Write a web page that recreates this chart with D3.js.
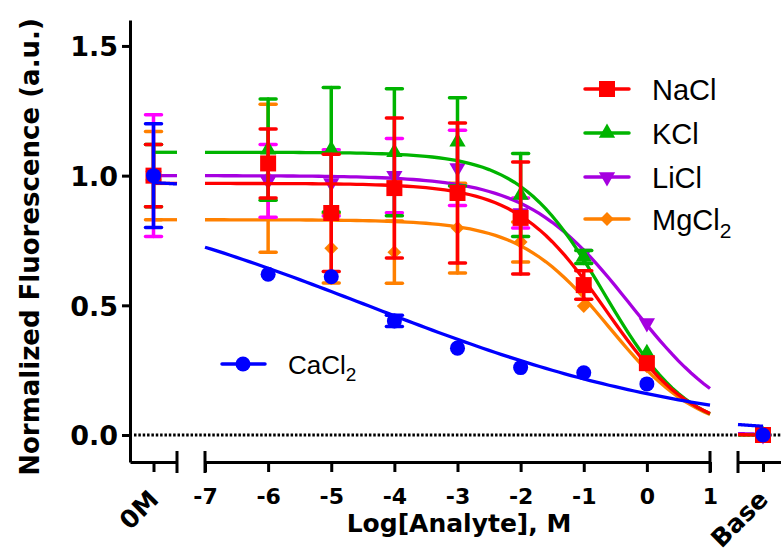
<!DOCTYPE html>
<html>
<head>
<meta charset="utf-8">
<script src="https://cdn.jsdelivr.net/npm/d3@7"></script>
<style>
  body { margin: 0; background: #fff; }
</style>
</head>
<body>
<script>
var width = 781;
var height = 555;

// Log[analyte] positions. 0M and Base sit on their own axis pieces.
var logConc = [-14, -6, -5, -4, -3, -2, -1, 0, 4.5];
var xTicks = [-7, -6, -5, -4, -3, -2, -1, 0, 1];
var yTicks = [0, 0.5, 1.0, 1.5];

// Means and SD (0M, -6 ... 0, Base). SD 0 = bar hidden.
var naclMean = [1.0, 1.047, 0.856, 0.952, 0.933, 0.837, 0.578, 0.277, 0.0];
var naclSd   = [0.12, 0.133, 0.226, 0.27, 0.27, 0.216, 0.055, 0, 0];
var kclMean  = [1.0, 1.10, 1.10, 1.09, 1.13, 0.925, 0.686, 0.316, 0.0];
var kclSd    = [0.12, 0.195, 0.24, 0.245, 0.17, 0.16, 0.025, 0, 0];
var liclMean = [1.0, 0.98, 0.972, 1.0, 1.03, 0.856, 0.70, 0.432, 0.0];
var liclSd   = [0.235, 0.14, 0.128, 0.143, 0.145, 0.058, 0, 0, 0];
var mgMean   = [1.0, 0.99, 0.72, 0.705, 0.798, 0.744, 0.497, 0.265, 0.0];
var mgSd     = [0.17, 0.285, 0.134, 0.12, 0.173, 0.077, 0, 0, 0];
var caMean   = [1.0, 0.62, 0.61, 0.44, 0.335, 0.26, 0.24, 0.197, 0.0];
var caSd     = [0.20, 0, 0, 0.022, 0, 0, 0, 0, 0];

// Fitted dose-response curves: top, bottom, logEC50, hill slope.
var naclFit = [0.97, 0, -0.66, 0.62];
var kclFit  = [1.09, 0, -0.675, 0.65];
var liclFit = [1.0, 0, -0.252, 0.528];
var mgFit   = [0.83, 0, -0.596, 0.612];
var caFit   = [1.0, 0, -4.43, 0.163];

// Drawing order: bottom first.
var series = [
  {name: 'MgCl', sub: '2', mean: mgMean, sd: mgSd, fit: mgFit, color: '#FF8000', bar: '#FF8000', shape: 'diamond'},
  {name: 'LiCl', sub: '', mean: liclMean, sd: liclSd, fit: liclFit, color: '#A600E0', bar: '#FF00FF', shape: 'down'},
  {name: 'KCl', sub: '', mean: kclMean, sd: kclSd, fit: kclFit, color: '#00B400', bar: '#00B400', shape: 'up'},
  {name: 'NaCl', sub: '', mean: naclMean, sd: naclSd, fit: naclFit, color: '#FF0000', bar: '#FF0000', shape: 'square'},
  {name: 'CaCl', sub: '2', mean: caMean, sd: caSd, fit: caFit, color: '#0000FF', bar: '#0000FF', shape: 'circle'}
];

var svg = d3.select('body')
  .append('svg')
  .attr('width', width)
  .attr('height', height);

// Scales: one y, three x pieces (0M | -7..1 | Base).
var y = d3.scaleLinear().domain([-0.104, 1.6]).range([462, 20]);
var xLeft = d3.scaleLinear().domain([-14.5, -13.5]).range([130, 177]);
var xMid = d3.scaleLinear().domain([-7, 1]).range([205, 710]);
var xRight = d3.scaleLinear().domain([4, 4.86]).range([738, 781]);
function xPos(v) {
  if (v < -10) return xLeft(v);
  if (v > 3) return xRight(v);
  return xMid(v);
}

function hill(p, x) {
  return p[1] + (p[0] - p[1]) / (1 + Math.pow(10, (x - p[2]) * p[3]));
}

var boldFont = 'DejaVu Sans, sans-serif';
var plainFont = 'Liberation Sans, Arial, sans-serif';

// Dotted zero line.
svg.append('line')
  .attr('x1', 134).attr('x2', 781)
  .attr('y1', y(0)).attr('y2', y(0))
  .attr('stroke', '#000')
  .attr('stroke-width', 3)
  .attr('stroke-dasharray', '2.5 1.85');

// Y axis.
var yAxis = svg.append('g')
  .attr('transform', 'translate(130,0)')
  .call(d3.axisLeft(y).tickValues(yTicks).tickFormat(d3.format('.1f')).tickSize(8).tickSizeOuter(0));

// X axis pieces.
var xAxisLeft = svg.append('g')
  .attr('transform', 'translate(0,462)')
  .call(d3.axisBottom(xLeft).tickValues([-14]).tickFormat(function() { return '0M'; }).tickSize(10).tickSizeOuter(0));
var xAxisMid = svg.append('g')
  .attr('transform', 'translate(0,462)')
  .call(d3.axisBottom(xMid).tickValues(xTicks).tickFormat(function(d) { return String(d); }).tickSize(10).tickSizeOuter(0));
var xAxisRight = svg.append('g')
  .attr('transform', 'translate(0,462)')
  .call(d3.axisBottom(xRight).tickValues([4.5]).tickFormat(function() { return 'Base'; }).tickSize(10).tickSizeOuter(0));

[yAxis, xAxisLeft, xAxisMid, xAxisRight].forEach(function(ax) {
  ax.select('.domain').attr('stroke-width', 3);
  ax.selectAll('.tick line').attr('stroke-width', 3);
});

// Left x piece meets the y axis at the corner.
xAxisLeft.select('.domain').attr('d', 'M130.5,0.5H177');

// Break caps.
[xLeft(-13.5), xMid(-7), xMid(1), xRight(4)].forEach(function(cx) {
  svg.append('line')
    .attr('x1', cx).attr('x2', cx)
    .attr('y1', 451).attr('y2', 473)
    .attr('stroke', '#000')
    .attr('stroke-width', 3);
});

yAxis.selectAll('.tick text')
  .attr('x', -12)
  .attr('dy', '0.36em')
  .attr('font-family', boldFont)
  .attr('font-weight', 'bold')
  .attr('font-size', 27)
  .attr('fill', '#000');

xAxisMid.selectAll('.tick text')
  .attr('y', 42)
  .attr('dy', 0)
  .attr('font-family', boldFont)
  .attr('font-weight', 'bold')
  .attr('font-size', 22)
  .attr('fill', '#000');

[xAxisLeft, xAxisRight].forEach(function(ax) {
  ax.selectAll('.tick text')
    .attr('x', 0).attr('y', 0).attr('dy', 0)
    .attr('text-anchor', 'end')
    .attr('transform', 'translate(6,39) rotate(-45)')
    .attr('font-family', boldFont)
    .attr('font-weight', 'bold')
    .attr('font-size', 25)
    .attr('fill', '#000');
});

// Axis titles.
svg.append('text')
  .attr('transform', 'translate(39,247) rotate(-90)')
  .attr('text-anchor', 'middle')
  .attr('font-family', boldFont)
  .attr('font-weight', 'bold')
  .attr('font-size', 26)
  .text('Normalized Fluorescence (a.u.)');

svg.append('text')
  .attr('x', 459)
  .attr('y', 532)
  .attr('text-anchor', 'middle')
  .attr('font-family', boldFont)
  .attr('font-weight', 'bold')
  .attr('font-size', 25)
  .text('Log[Analyte], M');

// Marker paths.
function markerPath(shape) {
  if (shape === 'square') return d3.symbol().type(d3.symbolSquare).size(256)();
  if (shape === 'circle') return d3.symbol().type(d3.symbolCircle).size(177)();
  if (shape === 'up') return d3.symbol().type(d3.symbolTriangle).size(115)();
  if (shape === 'down') return d3.symbol().type(d3.symbolTriangle).size(115)();
  return d3.symbol().type(d3.symbolSquare).size(96)();
}
function markerRot(shape) {
  if (shape === 'down') return ' rotate(180)';
  if (shape === 'diamond') return ' rotate(45)';
  return '';
}

var pieces = [[xLeft, -14, -13.5], [xMid, -7, 1], [xRight, 4, 4.5]];

series.forEach(function(s) {
  var g = svg.append('g');
  var pts = logConc.map(function(c, i) { return {x: c, m: s.mean[i], sd: s.sd[i]}; });

  // Error bars.
  var bars = g.selectAll('.bar').data(pts.filter(function(d) { return d.sd > 0; })).enter().append('g')
    .attr('stroke', s.bar)
    .attr('stroke-width', 3.5)
    .attr('stroke-linecap', 'round');
  bars.append('line')
    .attr('x1', function(d) { return xPos(d.x); })
    .attr('x2', function(d) { return xPos(d.x); })
    .attr('y1', function(d) { return y(d.m - d.sd); })
    .attr('y2', function(d) { return y(d.m + d.sd); });
  [1, -1].forEach(function(sign) {
    bars.append('line')
      .attr('x1', function(d) { return xPos(d.x) - 8; })
      .attr('x2', function(d) { return xPos(d.x) + 8; })
      .attr('y1', function(d) { return y(d.m + sign * d.sd); })
      .attr('y2', function(d) { return y(d.m + sign * d.sd); });
  });

  // Fitted curve on each axis piece.
  pieces.forEach(function(pc) {
    var xs = d3.range(0, 81).map(function(i) { return pc[1] + (pc[2] - pc[1]) * i / 80; });
    g.append('path')
      .datum(xs)
      .attr('fill', 'none')
      .attr('stroke', s.color)
      .attr('stroke-width', 3.3)
      .attr('d', d3.line()
        .x(function(v) { return pc[0](v); })
        .y(function(v) { return y(hill(s.fit, v)); }));
  });

  // Markers.
  g.selectAll('.pt').data(pts).enter().append('path')
    .attr('d', markerPath(s.shape))
    .attr('transform', function(d) { return 'translate(' + xPos(d.x) + ',' + y(d.m) + ')' + markerRot(s.shape); })
    .attr('fill', s.color);
});

// Legend (right block) and CaCl2 label.
var legendRows = [
  {s: series[3], y: 89},
  {s: series[2], y: 133},
  {s: series[1], y: 177},
  {s: series[0], y: 219}
];
function legendItem(s, lx, ly, x0, x1, tx, fs, subFs) {
  svg.append('line')
    .attr('x1', x0).attr('x2', x1)
    .attr('y1', ly).attr('y2', ly)
    .attr('stroke', s.color)
    .attr('stroke-width', 3.5)
    .attr('stroke-linecap', 'round');
  svg.append('path')
    .attr('d', markerPath(s.shape))
    .attr('transform', 'translate(' + lx + ',' + ly + ')' + markerRot(s.shape))
    .attr('fill', s.color);
  var t = svg.append('text')
    .attr('x', tx)
    .attr('y', ly + fs * 0.38)
    .attr('font-family', plainFont)
    .attr('font-size', fs)
    .text(s.name);
  if (s.sub) {
    t.append('tspan')
      .attr('font-size', subFs)
      .attr('dy', fs * 0.28)
      .text(s.sub);
  }
}
legendRows.forEach(function(r) {
  legendItem(r.s, 607, r.y, 585, 629, 652, 29, 21);
});
legendItem(series[4], 243, 364, 222, 265, 288, 26, 19);
</script>
</body>
</html>
